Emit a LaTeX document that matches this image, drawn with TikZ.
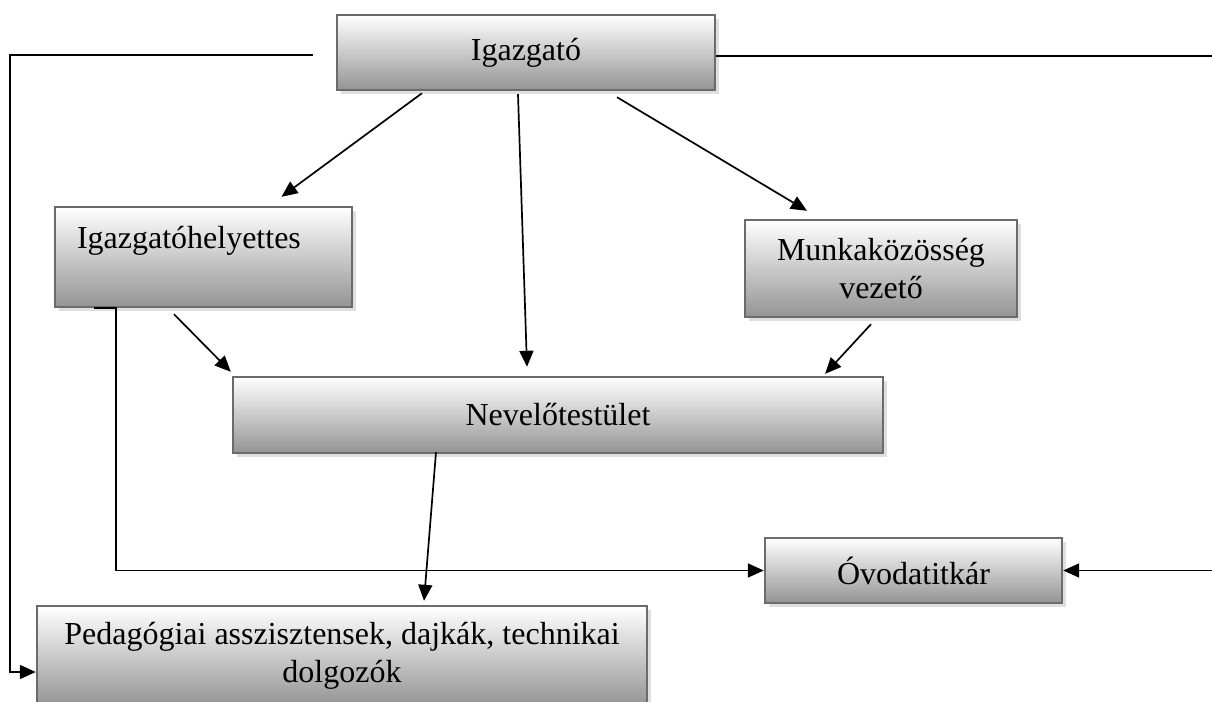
\documentclass[tikz,border=0pt]{standalone}
\usepackage{fontspec}
\setmainfont{Liberation Serif}
\usetikzlibrary{arrows.meta,shadows}

\begin{document}
\begin{tikzpicture}[x=0.5pt,y=-0.5pt,
  box/.style={draw=black!58, line width=1.2pt, top color=white, bottom color=black!42,
    drop shadow={shadow xshift=1.8pt, shadow yshift=-1.8pt, fill=black!25},
    font=\fontsize{16}{19}\selectfont, align=center, inner sep=0pt},
  arr/.style={-{Triangle[length=8pt,width=7pt]}, line width=0.85pt}]
  \useasboundingbox (0,0) rectangle (1212,702);
  \clip (0,0) rectangle (1212,702);
  \node[box, minimum width=189pt, minimum height=37.5pt] (igaz) at (526,52.5) {Igazgató};
  \node[box, align=left, text width=126.5pt, inner xsep=11pt, text height=20.5pt, text depth=29.5pt] (helyettes) at (203.5,257) {Igazgatóhelyettes};
  \node[box, minimum width=136pt, minimum height=48.5pt] (munka) at (881,268.5) {Munkaközösség\\vezető};
  \node[box, minimum width=325pt, minimum height=38pt] (nevelo) at (558,415) {Nevelőtestület};
  \node[box, minimum width=148.5pt, minimum height=32.5pt] (titkar) at (913.5,570.5) {Óvodatitkár};
  \node[box, minimum width=305pt, minimum height=50pt] (peda) at (342,656) {Pedagógiai asszisztensek, dajkák, technikai\\dolgozók};
  \coordinate (lstart) at (313,55);
  \coordinate (lbend) at (10,55);
  \coordinate (rbend) at (1240,56);
  \coordinate (hstart) at (94,308);
  \coordinate (hbend) at (116,308);
  \draw[arr] (lstart) -- (lbend) |- ([yshift=-8pt]peda.west);
  \draw[arr] ([yshift=-1.75pt]igaz.east) -- (rbend) |- (titkar.east);
  \draw[arr] (hstart) -- (hbend) |- (titkar.west);
  \draw[arr] ([shift={(-52pt,-1pt)}]igaz.south) -- ([shift={(39pt,4.5pt)}]helyettes.north);
  \draw[arr] ([shift={(-4pt,-1.5pt)}]igaz.south) -- ([shift={(-15.5pt,4.5pt)}]nevelo.north);
  \draw[arr] ([shift={(45.5pt,-3pt)}]igaz.south) -- ([shift={(-37pt,4pt)}]munka.north);
  \draw[arr] ([shift={(-14.75pt,-3pt)}]helyettes.south) -- ([shift={(-0.5pt,2pt)}]nevelo.north west);
  \draw[arr] ([shift={(-5pt,-3pt)}]munka.south) -- ([shift={(-29.5pt,1pt)}]nevelo.north east);
  \draw[arr] ([shift={(-61pt,1pt)}]nevelo.south) -- ([shift={(41pt,2pt)}]peda.north);
\end{tikzpicture}
\end{document}
